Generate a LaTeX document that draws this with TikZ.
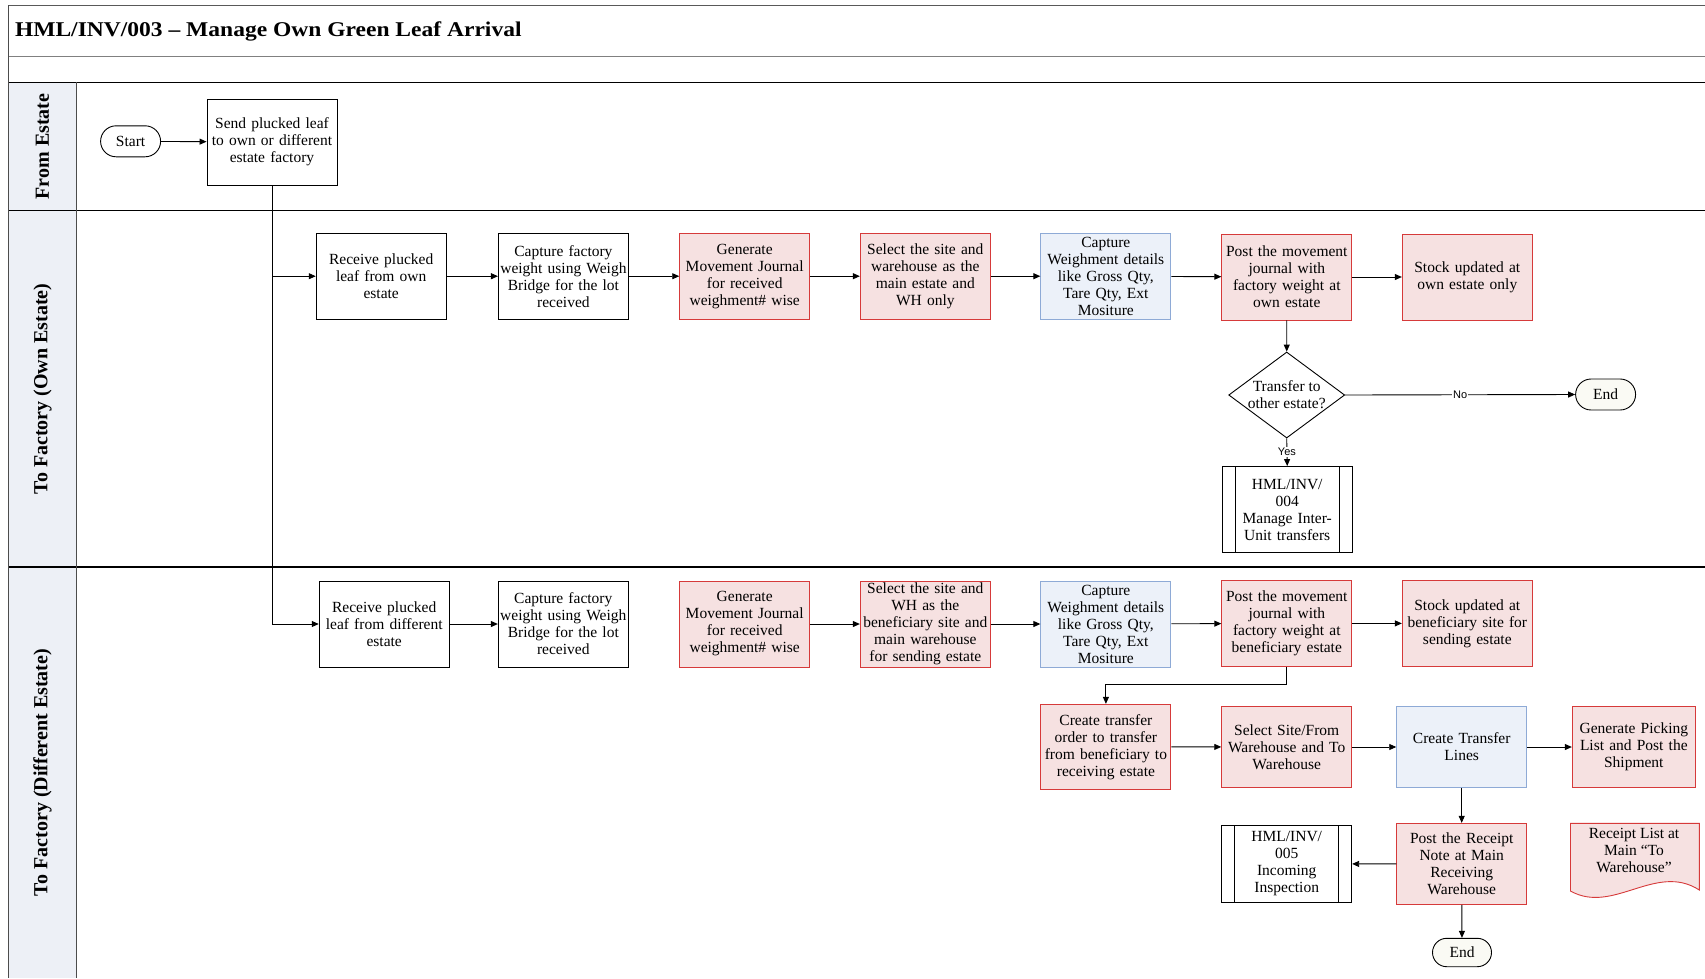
\documentclass[tikz,border=0pt]{standalone}
\usepackage{fontspec}
\setmainfont{Liberation Serif}
\newfontfamily\titlefont[FakeStretch=1.12]{Liberation Serif}
\newfontfamily\labelfont{Liberation Sans}
\usetikzlibrary{arrows.meta,shapes.geometric,shapes.misc,calc}

\definecolor{redline}{RGB}{214,58,58}
\definecolor{redfill}{RGB}{246,225,225}
\definecolor{blueline}{RGB}{142,170,214}
\definecolor{bluefill}{RGB}{236,241,249}
\definecolor{lanefill}{RGB}{237,240,246}
\definecolor{endfill}{RGB}{250,250,244}

\tikzset{
  boxtext/.style={font=\fontsize{15.5}{17}\selectfont},
  box/.style={boxtext, draw=black, line width=0.9pt, fill=white,
    minimum width=130, minimum height=86, text width=128,
    align=center, inner sep=1pt},
  redbox/.style={box, draw=redline, fill=redfill},
  bluebox/.style={box, draw=blueline, fill=bluefill},
  term/.style={boxtext, rounded rectangle, draw=black, line width=0.9pt,
    fill=white, minimum width=62, minimum height=31, inner sep=1pt},
  subproc/.style={box, text width=100,
    path picture={
      \draw[line width=0.9pt]
        ([xshift=13pt]path picture bounding box.north west) --
        ([xshift=13pt]path picture bounding box.south west)
        ([xshift=-13pt]path picture bounding box.north east) --
        ([xshift=-13pt]path picture bounding box.south east);}},
  decision/.style={diamond, draw=black, line width=0.9pt, fill=white,
    minimum width=116, minimum height=86, inner sep=0pt},
  lanelbl/.style={rotate=90, font=\fontsize{20}{22}\selectfont\bfseries},
  flowlbl/.style={font=\labelfont\fontsize{11}{12}\selectfont, fill=white,
    inner sep=1pt},
  arr/.style={-{Triangle[length=7pt,width=6pt]}, line width=0.9pt, black},
  link/.style={line width=0.9pt, black},
  frame/.style={line width=1.1pt}
}

\begin{document}
\begin{tikzpicture}[x=1pt, y=-1pt]
\useasboundingbox (0,0) rectangle (1705,978);

% swimlane frame
\fill[lanefill] (8.4,82.3) rectangle (76.5,978);
\draw[frame, black!65] (8.4,5.3) -- (1705,5.3);
\draw[frame, black!50] (8.4,56.7) -- (1705,56.7);
\draw[frame, black] (8.4,82.3) -- (1705,82.3);
\draw[frame, black] (8.4,210.7) -- (1705,210.7);
\draw[frame, black] (8.4,567) -- (1705,567);
\draw[frame, black!70] (8.4,5.3) -- (8.4,978);
\draw[frame, black!70] (76.5,82.3) -- (76.5,978);

\node[anchor=base west, font=\titlefont\fontsize{21}{24}\selectfont\bfseries]
  (title) at (11.5,36.5) {HML/INV/003 – Manage Own Green Leaf Arrival};

\node[lanelbl] (laneA) at (42.5,146.5) {From Estate};
\node[lanelbl] (laneB) at (42.5,389) {To Factory (Own Estate)};
\node[lanelbl] (laneC) at (42.5,772.5) {To Factory (Different Estate)};

% From Estate
\node[term] (start) at (130.6,141.3) {Start};
\node[box] (send) at (272,142) {Send plucked leaf\\to own or different\\estate factory};

% To Factory (Own Estate)
\node[box] (recvown) at (381.2,276.2) {Receive plucked\\leaf from own\\estate};
\node[box] (capown) at (563.4,276.2) {Capture factory\\weight using Weigh\\Bridge for the lot\\received};
\node[redbox] (genown) at (744.7,276.2) {Generate\\Movement Journal\\for received\\weighment\# wise};
\node[redbox] (selown) at (925.3,276.2) {Select the site and\\warehouse as the\\main estate and\\WH only};
\node[bluebox] (capwown) at (1105.8,276.2) {Capture\\Weighment details\\like Gross Qty,\\Tare Qty, Ext\\Mositure};
\node[redbox] (postown) at (1286.8,277) {Post the movement\\journal with\\factory weight at\\own estate};
\node[redbox] (stockown) at (1467.3,277) {Stock updated at\\own estate only};
\node[decision] (dec) at (1286.7,395) {};
\node[boxtext, align=center, inner sep=0pt] (dectext) at (1286.7,395) {Transfer to\\other estate?};
\node[term, fill=endfill] (endA) at (1605.6,394.5) {End};
\node[subproc] (inv004) at (1287.2,509.5) {HML/INV/\\004\\Manage Inter-\\Unit transfers};

% To Factory (Different Estate)
\node[box] (recvdiff) at (384.2,624) {Receive plucked\\leaf from different\\estate};
\node[box] (capdiff) at (563.3,624) {Capture factory\\weight using Weigh\\Bridge for the lot\\received};
\node[redbox] (gendiff) at (744.7,624) {Generate\\Movement Journal\\for received\\weighment\# wise};
\node[redbox] (seldiff) at (925.3,624) {Select the site and\\WH as the\\beneficiary site and\\main warehouse\\for sending estate};
\node[bluebox] (capwdiff) at (1105.8,624) {Capture\\Weighment details\\like Gross Qty,\\Tare Qty, Ext\\Mositure};
\node[redbox] (postdiff) at (1286.8,623.4) {Post the movement\\journal with\\factory weight at\\beneficiary estate};
\node[redbox] (stockdiff) at (1467.3,623.4) {Stock updated at\\beneficiary site for\\sending estate};

\node[redbox, minimum height=85] (ctrans) at (1105.9,746.8) {Create transfer\\order to transfer\\from beneficiary to\\receiving estate};
\node[redbox, minimum height=80.6] (selsite) at (1286.7,747) {Select Site/From\\Warehouse and To\\Warehouse};
\node[bluebox, minimum width=129.3, minimum height=80.6] (ctl) at (1461.7,747) {Create Transfer\\Lines};
\node[redbox, minimum width=122.4, text width=121, minimum height=80.6] (genpick) at (1633.8,747) {Generate Picking\\List and Post the\\Shipment};

\node[subproc, minimum height=76.6] (inv005) at (1286.7,864) {HML/INV/\\005\\Incoming\\Inspection};
\node[redbox, minimum width=129.3, minimum height=81] (postrec) at (1461.7,863.8) {Post the Receipt\\Note at Main\\Receiving\\Warehouse};
\node[term, fill=endfill, minimum width=61, minimum height=28.4] (endB) at (1462,952.5) {End};

% document shape
\draw[redline, fill=redfill, line width=0.9pt]
  (1570.5,823.3) -- (1699.3,823.3) -- (1699.3,890)
  .. controls (1656,862) and (1613,915) .. (1570.5,891) -- cycle;
\node[boxtext, align=center, inner sep=0pt] (receiptlist) at (1634,850.5)
  {Receipt List at\\Main “To\\Warehouse”};

% connectors
\coordinate (jown) at (send.south |- recvown.west);
\coordinate (jdiff) at (send.south |- recvdiff.west);
\coordinate (bend) at ($(postdiff.south)+(0,18)$);

\draw[arr] (start) -- (send);
\draw[arr] (send.south) -- (jdiff) -- (recvdiff.west);
\draw[arr] (jown) -- (recvown.west);

\draw[arr] (recvown) -- (capown);
\draw[arr] (capown) -- (genown);
\draw[arr] (genown) -- (selown);
\draw[arr] (selown) -- (capwown);
\draw[arr] (capwown) -- (postown);
\draw[arr] (postown) -- (stockown);
\draw[arr] (postown) -- (dec);
\draw[arr] (dec.east) -- node[flowlbl] (nolbl) {No} (endA.west);
\draw[arr] (dec.south) -- node[flowlbl] (yeslbl) {Yes} (inv004.north);

\draw[arr] (recvdiff) -- (capdiff);
\draw[arr] (gendiff) -- (seldiff);
\draw[arr] (seldiff) -- (capwdiff);
\draw[arr] (capwdiff) -- (postdiff);
\draw[arr] (postdiff) -- (stockdiff);
\draw[arr] (postdiff.south) -- (bend) -| (ctrans.north);

\draw[arr] (ctrans) -- (selsite);
\draw[arr] (selsite) -- (ctl);
\draw[arr] (ctl) -- (genpick);
\draw[arr] (ctl) -- (postrec);
\draw[arr] (postrec) -- (inv005);
\draw[arr] (postrec) -- (endB);

\end{tikzpicture}
\end{document}
